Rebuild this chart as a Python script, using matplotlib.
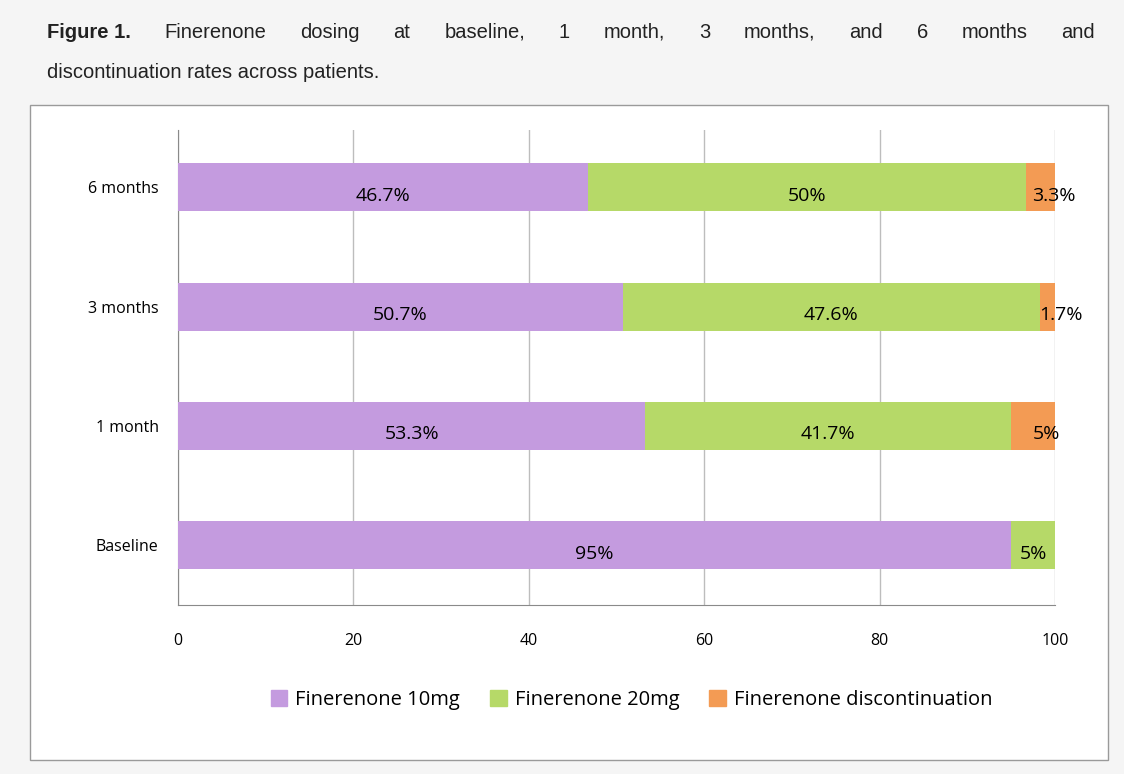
import matplotlib
matplotlib.use("Agg")
import matplotlib.pyplot as plt
from matplotlib.patches import Rectangle

# --- Data ---
categories = ["Baseline", "1 month", "3 months", "6 months"]
dose_10mg = [95, 53.3, 50.7, 46.7]
dose_20mg = [5, 41.7, 47.6, 50]
discont = [0, 5, 1.7, 3.3]
labels_10 = ["95%", "53.3%", "50.7%", "46.7%"]
labels_20 = ["5%", "41.7%", "47.6%", "50%"]
labels_dc = ["", "5%", "1.7%", "3.3%"]
series_names = ["Finerenone 10mg", "Finerenone 20mg", "Finerenone discontinuation"]

PURPLE = "#C49BDF"
GREEN = "#B6D968"
ORANGE = "#F39B54"
FONT = "Open Sans"

fig = plt.figure(figsize=(11.24, 7.74), dpi=100)
fig.patch.set_facecolor("#F5F5F5")

# white panel with border
fig.patches.append(Rectangle((30 / 1124, 1 - 760 / 774), 1078 / 1124, 655 / 774,
                             transform=fig.transFigure, facecolor="white",
                             edgecolor="#9a9a9a", linewidth=1.0, zorder=-1))

# --- Caption (first line justified) ---
renderer = fig.canvas.get_renderer()
words = ["Figure 1.", "Finerenone", "dosing", "at", "baseline,", "1", "month,", "3",
         "months,", "and", "6", "months", "and"]
x0, x1 = 47 / 1124, 1095 / 1124
texts = []
for i, w in enumerate(words):
    t = fig.text(0, 1 - 32 / 774, w, fontsize=14.5, family="Liberation Sans",
                 fontweight="bold" if i == 0 else "normal", va="center", color="#222222")
    texts.append(t)
widths = [t.get_window_extent(renderer).width / fig.bbox.width for t in texts]
gap = (x1 - x0 - sum(widths)) / (len(words) - 1)
x = x0
for t, w in zip(texts, widths):
    t.set_x(x)
    x += w + gap
fig.text(x0, 1 - 73 / 774, "discontinuation rates across patients.", fontsize=14.5,
         family="Liberation Sans", va="center", color="#222222")

# --- Chart ---
ax = fig.add_axes([178 / 1124, 1 - 605 / 774, 877 / 1124, 475 / 774])
ax.set_facecolor("none")
y = range(len(categories))
h = 0.4
ax.barh(y, dose_10mg, height=h, color=PURPLE, zorder=3)
ax.barh(y, dose_20mg, left=dose_10mg, height=h, color=GREEN, zorder=3)
left_dc = [a + b for a, b in zip(dose_10mg, dose_20mg)]
ax.barh(y, discont, left=left_dc, height=h, color=ORANGE, zorder=3)

for i in y:
    ax.text(dose_10mg[i] / 2, i - 0.07, labels_10[i], ha="center", va="center",
            fontsize=14, family=FONT, zorder=4)
    ax.text(dose_10mg[i] + dose_20mg[i] / 2, i - 0.07, labels_20[i], ha="center",
            va="center", fontsize=14, family=FONT, zorder=4)
    if labels_dc[i]:
        ax.text(left_dc[i] + discont[i] / 2 + 1.5, i - 0.07, labels_dc[i], ha="center",
                va="center", fontsize=14, family=FONT, zorder=4)

ax.set_xlim(0, 100)
ax.set_ylim(-0.5, 3.48)
ax.set_xticks(range(0, 101, 20))
ax.set_yticks(list(y))
ax.set_yticklabels(categories)
ax.grid(axis="x", color="#bdbdbd", linewidth=1.0, zorder=0)
for s in ["top", "right"]:
    ax.spines[s].set_visible(False)
ax.spines["left"].set_color("#8a8a8a")
ax.spines["bottom"].set_color("#8a8a8a")
ax.tick_params(axis="both", length=0, labelsize=11.5, pad=14)
ax.tick_params(axis="x", pad=20)
for lab in ax.get_xticklabels() + ax.get_yticklabels():
    lab.set_family(FONT)

handles = [Rectangle((0, 0), 1, 1, color=c) for c in (PURPLE, GREEN, ORANGE)]
fig.legend(handles, series_names, loc="center", bbox_to_anchor=(0.562, 1 - 700 / 774),
           ncol=3, frameon=False, prop={"family": FONT, "size": 14.5},
           handlelength=0.8, handleheight=0.8, handletextpad=0.4, columnspacing=1.5)

fig.savefig("out.png", dpi=100, facecolor=fig.get_facecolor())
